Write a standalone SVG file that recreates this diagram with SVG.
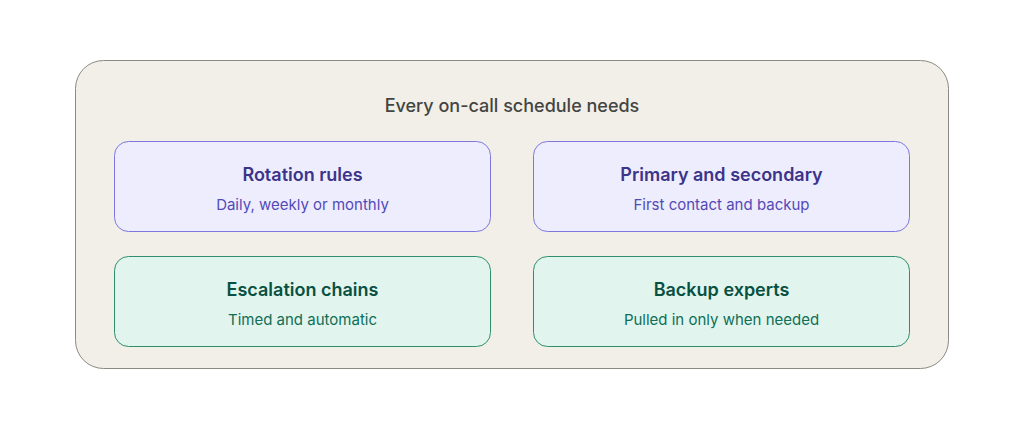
<svg xmlns="http://www.w3.org/2000/svg" width="1024" height="429" viewBox="0 0 1024 429">
<style>
text{font-family:Inter,"Noto Sans",sans-serif;text-anchor:middle}
.t{font-size:18px;font-weight:600}
.s{font-size:15px}
.p rect{fill:#eeedfe;stroke:#7f77dd;stroke-width:1}
.p .t{fill:#3c3489}.p .s{fill:#534ab7}
.g rect{fill:#e1f5ee;stroke:#2e8f6a;stroke-width:1}
.g .t{fill:#085041}.g .s{fill:#0f6e56}
</style>
<rect width="1024" height="429" fill="#fff"/>
<g id="container">
<rect x="75.5" y="60.5" width="873" height="308" rx="28" fill="#f1efe8" stroke="#8c8a82" stroke-width="1"/>
<text x="512" y="112" style="font-size:18px;font-weight:500" fill="#444441">Every on-call schedule needs</text>
</g>
<g id="rotation" class="p"><rect x="114.5" y="141.5" width="376" height="90" rx="14"/><text class="t" x="302.5" y="181">Rotation rules</text><text class="s" x="302.5" y="210">Daily, weekly or monthly</text></g>
<g id="primary" class="p"><rect x="533.5" y="141.5" width="376" height="90" rx="14"/><text class="t" x="721.5" y="181">Primary and secondary</text><text class="s" x="721.5" y="210">First contact and backup</text></g>
<g id="escalation" class="g"><rect x="114.5" y="256.5" width="376" height="90" rx="14"/><text class="t" x="302.5" y="296">Escalation chains</text><text class="s" x="302.5" y="325">Timed and automatic</text></g>
<g id="experts" class="g"><rect x="533.5" y="256.5" width="376" height="90" rx="14"/><text class="t" x="721.5" y="296">Backup experts</text><text class="s" x="721.5" y="325">Pulled in only when needed</text></g>
<g id="connectors"/>
</svg>
